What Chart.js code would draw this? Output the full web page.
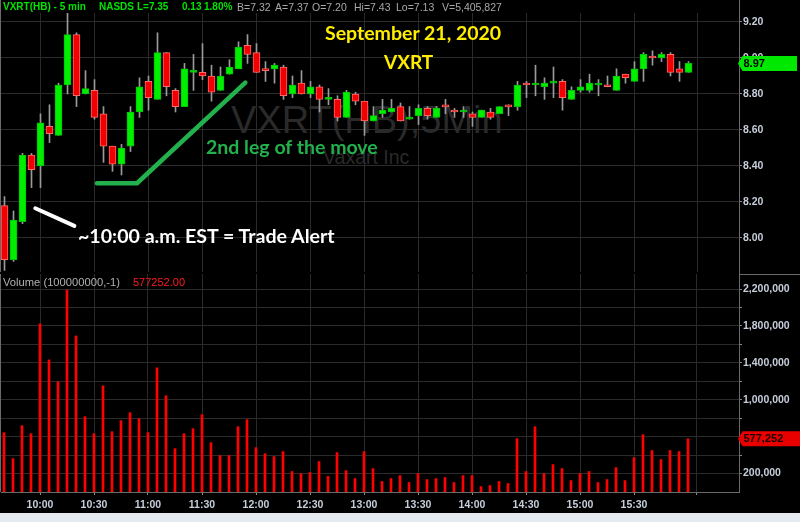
<!DOCTYPE html>
<html>
<head>
<meta charset="utf-8">
<title>VXRT 5 min</title>
<script src="https://cdn.jsdelivr.net/npm/chart.js@4.4.0/dist/chart.umd.min.js"></script>
<style>
  html, body { margin: 0; padding: 0; background: #000; }
  #wrap { position: relative; width: 800px; height: 522px; overflow: hidden; background: #000; }
  canvas { position: absolute; left: 0; z-index: 1; }
  #price { top: 0; }
  #volume { top: 274px; }
  .t { position: absolute; white-space: nowrap; line-height: 1; z-index: 2; }
  .hdr { font-family: "Liberation Sans", Arial, sans-serif; font-size: 10.5px; top: 2px; }
  .g { color: #00e400; font-weight: bold; font-size: 10px; }
  .s { color: #a9a9a9; }
  .wm { z-index: 0; color: #2a2a2a; font-family: "Liberation Sans", Arial, sans-serif; }
  .note { font-family: Lato, "Open Sans", sans-serif; font-weight: bold; }
  #strip { position: absolute; left: 0; top: 513px; width: 800px; height: 9px; background: #e4eaf0; z-index: 3; }
</style>
</head>
<body>
<div id="wrap">
  <!-- header line -->
  <div class="t hdr g" style="left:3px">VXRT(HB) - 5 min</div>
  <div class="t hdr g" style="left:99px">NASDS</div>
  <div class="t hdr g" style="left:137px">L=7.35</div>
  <div class="t hdr g" style="left:182px">0.13</div>
  <div class="t hdr g" style="left:204px">1.80%</div>
  <div class="t hdr s" style="left:237px">B=7.32</div>
  <div class="t hdr s" style="left:275px">A=7.37</div>
  <div class="t hdr s" style="left:312px">O=7.20</div>
  <div class="t hdr s" style="left:354px">Hi=7.43</div>
  <div class="t hdr s" style="left:396px">Lo=7.13</div>
  <div class="t hdr s" style="left:442px">V=5,405,827</div>

  <!-- watermark -->
  <div class="t wm" style="left:231px; top:101px; font-size:38px">VXRT(HB),5Min</div>
  <div class="t wm" style="left:323px; top:147.5px; font-size:19.5px">Vaxart Inc</div>

  <!-- notes -->
  <div class="t note" style="left:325px; top:22.7px; font-size:19.5px; color:#ffee00">September 21, 2020</div>
  <div class="t note" style="left:384px; top:52px; font-size:19px; color:#ffee00">VXRT</div>
  <div class="t note" style="left:206px; top:136.7px; font-size:19.5px; color:#22b14c">2nd leg of the move</div>
  <div class="t note" style="left:78px; top:226px; font-size:19.6px; color:#ffffff">~10:00 a.m. EST = Trade Alert</div>

  <!-- volume pane title -->
  <div class="t hdr s" style="left:3px; top:277px; font-size:11.2px; color:#b0b0b0">Volume (100000000,-1)</div>
  <div class="t hdr" style="left:133px; top:277px; font-size:11px; color:#ff1a1a">577252.00</div>

  <canvas id="price" width="800" height="274"></canvas>
  <canvas id="volume" width="800" height="248"></canvas>
  <div id="strip"></div>
</div>

<script>
// VXRT 5-minute bars, 09:40 - 16:00 (bar index 0..76)

// Time axis
const timeLabels = ['10:00', '10:30', '11:00', '11:30', '12:00', '12:30', '13:00', '13:30', '14:00', '14:30', '15:00', '15:30', ''];
const timeIdx = [4, 10, 16, 22, 28, 34, 40, 46, 52, 58, 64, 70, 77];

// OHLC
const opens = [8.18, 7.88, 8.09, 8.46, 8.40, 8.62, 8.57, 8.85, 9.13, 8.80,
               8.82, 8.69, 8.51, 8.41, 8.51, 8.70, 8.87, 8.77, 9.03, 8.82,
               8.73, 8.92, 8.92, 8.90, 8.82, 8.91, 8.94, 9.07, 9.03, 8.94,
               8.94, 8.95, 8.80, 8.86, 8.80, 8.84, 8.77, 8.77, 8.67, 8.80,
               8.76, 8.65, 8.69, 8.70, 8.73, 8.66, 8.68, 8.72, 8.67, 8.73,
               8.71, 8.70, 8.69, 8.67, 8.70, 8.69, 8.73, 8.73, 8.86, 8.85,
               8.84, 8.86, 8.87, 8.77, 8.82, 8.82, 8.85, 8.85, 8.82, 8.91,
               8.87, 8.94, 9.01, 9.00, 9.02, 8.94, 8.92];
const highs = [8.23, 8.15, 8.47, 8.47, 8.69, 8.74, 8.86, 9.25, 9.14, 8.93,
               8.88, 8.73, 8.51, 8.52, 8.73, 8.89, 8.90, 9.14, 9.03, 8.83,
               8.97, 9.02, 9.08, 8.96, 8.95, 8.99, 9.09, 9.13, 9.08, 8.98,
               8.97, 8.96, 8.90, 8.93, 8.87, 8.85, 8.83, 8.79, 8.82, 8.81,
               8.76, 8.73, 8.77, 8.77, 8.75, 8.73, 8.74, 8.73, 8.73, 8.77,
               8.72, 8.73, 8.70, 8.71, 8.72, 8.73, 8.74, 8.87, 8.87, 8.96,
               8.89, 8.95, 8.88, 8.84, 8.88, 8.91, 8.88, 8.90, 8.94, 8.91,
               8.98, 9.03, 9.04, 9.03, 9.03, 8.98, 8.98];
const lows = [7.82, 7.87, 8.08, 8.28, 8.28, 8.53, 8.57, 8.80, 8.73, 8.80,
              8.66, 8.42, 8.37, 8.35, 8.48, 8.67, 8.71, 8.77, 8.79, 8.70,
              8.73, 8.82, 8.88, 8.76, 8.82, 8.91, 8.94, 8.97, 8.92, 8.87,
              8.86, 8.77, 8.78, 8.80, 8.78, 8.70, 8.74, 8.65, 8.67, 8.74,
              8.57, 8.65, 8.67, 8.70, 8.65, 8.66, 8.63, 8.66, 8.67, 8.69,
              8.67, 8.67, 8.62, 8.67, 8.66, 8.69, 8.68, 8.71, 8.78, 8.79,
              8.77, 8.78, 8.71, 8.77, 8.81, 8.81, 8.79, 8.84, 8.82, 8.86,
              8.87, 8.87, 8.96, 8.98, 8.90, 8.87, 8.92];
const closes = [7.88, 8.10, 8.46, 8.38, 8.64, 8.58, 8.85, 9.13, 8.79, 8.83,
                8.67, 8.51, 8.41, 8.50, 8.70, 8.84, 8.78, 9.03, 8.84, 8.73,
                8.94, 8.92, 8.90, 8.81, 8.90, 8.95, 9.06, 9.02, 8.92, 8.93,
                8.96, 8.79, 8.85, 8.80, 8.84, 8.77, 8.77, 8.67, 8.81, 8.76,
                8.65, 8.68, 8.71, 8.72, 8.65, 8.67, 8.72, 8.68, 8.72, 8.728,
                8.70, 8.70, 8.67, 8.71, 8.67, 8.73, 8.728, 8.85, 8.85, 8.85,
                8.86, 8.86, 8.78, 8.82, 8.84, 8.86, 8.85, 8.84, 8.90, 8.89,
                8.94, 9.02, 9.00, 9.02, 8.92, 8.92, 8.97];

// Volume
const volumes = [643000, 362000, 719000, 632000, 1822000, 1432000, 1195000, 2189000, 1692000, 816000,
                 632000, 1151000, 654000, 773000, 859000, 795000, 643000, 1346000, 1043000, 470000,
                 632000, 686000, 838000, 535000, 395000, 395000, 708000, 784000, 481000, 416000,
                 384000, 438000, 222000, 200000, 211000, 330000, 168000, 427000, 232000, 146000,
                 438000, 254000, 114000, 146000, 178000, 103000, 200000, 135000, 146000, 157000,
                 103000, 178000, 178000, 59000, 70000, 114000, 92000, 578000, 222000, 708000,
                 200000, 297000, 254000, 124000, 200000, 222000, 103000, 135000, 265000, 124000,
                 373000, 622000, 449000, 351000, 449000, 438000, 577252];

// Axis ticks
const priceTicks = [8.0, 8.2, 8.4, 8.6, 8.8, 9.0, 9.2];
const volumeTicks = [200000, 400000, 600000, 800000, 1000000, 1200000, 1400000, 1600000, 1800000, 2000000, 2200000];

// Hand-drawn annotations (bar index, price)
const secondLeg = [{x: 10.28, y: 8.304}, {x: 14.72, y: 8.304}, {x: 26.76, y: 8.863}];
const alertMark = [{x: 3.42, y: 8.165}, {x: 7.76, y: 8.067}];

// Colours
const UP = '#00ee00', UP_EDGE = '#00c400';
const DOWN = '#f00000', DOWN_EDGE = '#ff6a6a';
const GRID = '#2b2b2b';
const AXIS = '#6a6a6a';
const LABEL = '#c6cedb';

Chart.defaults.font.family = '"Liberation Sans", Arial, sans-serif';

const isUp = closes.map((c, i) => c >= opens[i]);
const lastClose = closes[closes.length - 1];
const lastVolume = volumes[volumes.length - 1];

// Draws the left edge and the full-height right axis line
const frame = {
    id: 'frame',
    afterDraw(chart, args, opts) {
        const {ctx, chartArea} = chart;
        const axisX = Math.round(chart.scales.y.left) + 0.5;
        ctx.save();
        ctx.strokeStyle = AXIS;
        ctx.lineWidth = 1;
        ctx.beginPath();
        ctx.moveTo(chartArea.left - 0.5, 0);
        ctx.lineTo(chartArea.left - 0.5, chartArea.bottom);
        ctx.moveTo(axisX, 0);
        ctx.lineTo(axisX, opts.toBottom ? chart.height : chartArea.bottom + 1);
        if (opts.separator) {
            ctx.moveTo(axisX, 0.5);
            ctx.lineTo(chart.width, 0.5);
        }
        ctx.stroke();
        ctx.restore();
    }
};

// Last value flag on the right axis
const lastFlag = {
    id: 'lastFlag',
    afterDraw(chart, args, opts) {
        const {ctx} = chart;
        const y = chart.scales.y.getPixelForValue(opts.value);
        const x0 = chart.scales.y.left - 1;
        const h = 7.5;
        ctx.save();
        ctx.fillStyle = opts.fill;
        ctx.beginPath();
        ctx.moveTo(x0, y);
        ctx.lineTo(x0 + 4.5, y - h);
        ctx.lineTo(x0 + opts.width, y - h);
        ctx.lineTo(x0 + opts.width, y + h);
        ctx.lineTo(x0 + 4.5, y + h);
        ctx.closePath();
        ctx.fill();
        ctx.fillStyle = opts.color;
        ctx.font = 'bold 11px "Liberation Sans", Arial, sans-serif';
        ctx.textBaseline = 'middle';
        ctx.fillText(opts.text, x0 + 5.5, y + 0.5);
        ctx.restore();
    }
};

function fixedTicks(values) {
    return scale => { scale.ticks = values.map(v => ({value: v})); };
}

// ---------- price pane ----------
new Chart(document.getElementById('price'), {
    type: 'bar',
    data: {
        datasets: [
            {
                type: 'line',
                data: secondLeg,
                borderColor: '#22b14c',
                borderWidth: 4.5,
                borderCapStyle: 'round',
                borderJoinStyle: 'round',
                pointRadius: 0,
                order: -2
            },
            {
                type: 'line',
                data: alertMark,
                borderColor: '#ffffff',
                borderWidth: 4,
                borderCapStyle: 'round',
                pointRadius: 0,
                order: -1
            },
            {
                // candle bodies
                data: opens.map((o, i) => ({x: i, y: [o, closes[i]]})),
                backgroundColor: isUp.map(u => u ? UP : DOWN),
                borderColor: isUp.map(u => u ? UP_EDGE : DOWN_EDGE),
                borderWidth: 1,
                borderSkipped: false,
                barThickness: 7,
                minBarLength: 2,
                grouped: false,
                order: 0
            },
            {
                // wicks
                data: lows.map((l, i) => ({x: i, y: [l, highs[i]]})),
                backgroundColor: '#9a9a9a',
                borderWidth: 0,
                barThickness: 1,
                grouped: false,
                order: 1
            }
        ]
    },
    options: {
        responsive: false,
        animation: false,
        layout: {padding: {left: 1, top: 13, right: 0, bottom: 2}},
        plugins: {
            legend: {display: false},
            tooltip: {enabled: false},
            frame: {toBottom: true},
            lastFlag: {value: lastClose, text: lastClose.toFixed(2), fill: '#00e800', color: '#000', width: 59}
        },
        scales: {
            x: {
                type: 'linear',
                min: -3.5 / 9,
                max: -3.5 / 9 + 738 / 9,
                offset: false,
                grid: {color: GRID, drawTicks: false, offset: false},
                border: {display: false},
                ticks: {display: false},
                afterBuildTicks: fixedTicks(timeIdx),
                afterFit: s => { s.height = 0; s.paddingLeft = 0; s.paddingRight = 0; }
            },
            y: {
                position: 'right',
                min: 7.811,
                max: 9.25,
                grid: {color: GRID, tickColor: '#8a8a8a', tickLength: 3},
                border: {display: false},
                ticks: {
                    color: LABEL,
                    padding: 1,
                    font: {size: 10.5, weight: 'bold'},
                    callback: v => v.toFixed(2)
                },
                afterBuildTicks: fixedTicks(priceTicks),
                afterFit: s => { s.width = 61; s.paddingTop = 0; s.paddingBottom = 0; }
            }
        }
    },
    plugins: [frame, lastFlag]
});

// ---------- volume pane ----------
new Chart(document.getElementById('volume'), {
    type: 'bar',
    data: {
        datasets: [{
            data: volumes.map((v, i) => ({x: i, y: v})),
            backgroundColor: '#ff0000',
            barThickness: 2,
            borderWidth: 0
        }]
    },
    options: {
        responsive: false,
        animation: false,
        layout: {padding: {left: 1, top: 0, right: 0, bottom: 0}},
        plugins: {
            legend: {display: false},
            tooltip: {enabled: false},
            frame: {toBottom: false, separator: true},
            lastFlag: {value: lastVolume, text: lastVolume.toLocaleString('en-US'), fill: '#e80000', color: '#1a0000', width: 62}
        },
        scales: {
            x: {
                type: 'linear',
                min: -3 / 9,
                max: -3 / 9 + 738 / 9,
                offset: false,
                grid: {color: GRID, tickColor: '#8a8a8a', tickLength: 3, offset: false},
                border: {display: true, color: AXIS},
                ticks: {
                    color: LABEL,
                    padding: 4,
                    autoSkip: false,
                    maxRotation: 0,
                    font: {size: 10.5, weight: 'bold'},
                    callback: v => timeLabels[timeIdx.indexOf(v)]
                },
                afterBuildTicks: fixedTicks(timeIdx),
                afterFit: s => { s.height = 30; s.paddingLeft = 0; s.paddingRight = 0; }
            },
            y: {
                position: 'right',
                min: 0,
                max: 2363000,
                grid: {color: GRID, tickColor: '#8a8a8a', tickLength: 3},
                border: {display: false},
                ticks: {
                    color: LABEL,
                    padding: 1,
                    font: {size: 10.5, weight: 'bold'},
                    callback: v => (v / 200000) % 2 === 1 ? v.toLocaleString('en-US') : ''
                },
                afterBuildTicks: fixedTicks(volumeTicks),
                afterFit: s => { s.width = 61; s.paddingTop = 0; s.paddingBottom = 0; }
            }
        }
    },
    plugins: [frame, lastFlag]
});
</script>
</body>
</html>
